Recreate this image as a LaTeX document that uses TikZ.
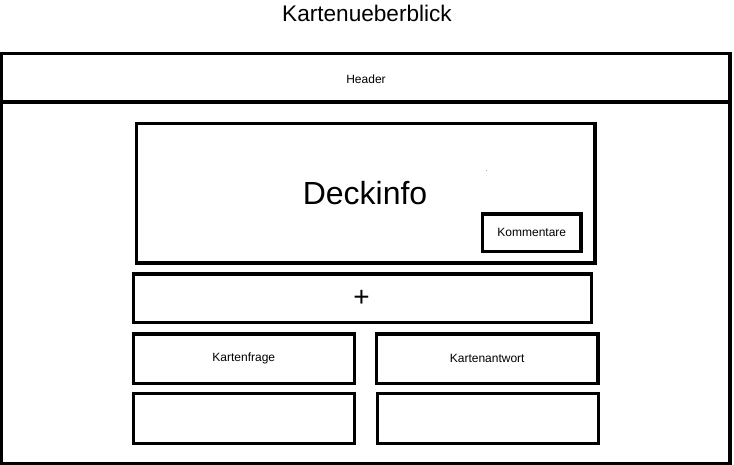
\documentclass[tikz,border=0pt]{standalone}
\usepackage{fontspec}
\setmainfont{Liberation Sans}
\begin{document}
\begin{tikzpicture}[x=1pt,y=-1pt,
  box/.style={draw=black,line width=3.2pt,rectangle,inner sep=0pt,outer sep=0pt},
  lbl/.style={font=\fontsize{12}{14}\selectfont,inner sep=0pt}]
\useasboundingbox (0,0) rectangle (734,465);
% title
\node[font=\fontsize{22.6}{25}\selectfont,inner sep=0pt] (title) at (367,13.5) {Kartenueberblick};
% outer frame and header strip
\node[box,minimum width=728.5pt,minimum height=410pt] (frame) at (365.75,258.5) {};
\node[box,minimum width=728.5pt,minimum height=48.5pt] (header) at (365.75,77.75) {};
\node[lbl] (headertext) at (366,79) {Header};
% deck info panel
\node[box,minimum width=458.5pt,minimum height=139.5pt] (deckinfo) at (365.75,193.25) {};
\node[font=\fontsize{32}{36}\selectfont,inner sep=0pt] (decktext) at (365,193.5) {Deckinfo};
\node[font=\fontsize{6}{6}\selectfont,inner sep=0pt] (dot) at (486.7,171.5) {.};
\node[box,minimum width=98.5pt,minimum height=37.5pt,lbl] (comments) at (531.8,232.8) {Kommentare};
% add button
\node[box,minimum width=458pt,minimum height=48.7pt] (addbar) at (362.2,298.3) {};
\node[font=\fontsize{28}{30}\selectfont,inner sep=0pt] (plus) at (361.5,298.5) {+};
% card question / answer rows
\node[box,minimum width=221pt,minimum height=49.3pt,lbl] (question) at (243.8,358.6) {Kartenfrage};
\node[box,minimum width=221.5pt,minimum height=49.3pt,lbl] (answer) at (487.2,358.6) {Kartenantwort};
\node[box,minimum width=221pt,minimum height=49.6pt] (questionbox) at (243.8,418.5) {};
\node[box,minimum width=221pt,minimum height=49.6pt] (answerbox) at (487.8,418.5) {};
\end{tikzpicture}
\end{document}
